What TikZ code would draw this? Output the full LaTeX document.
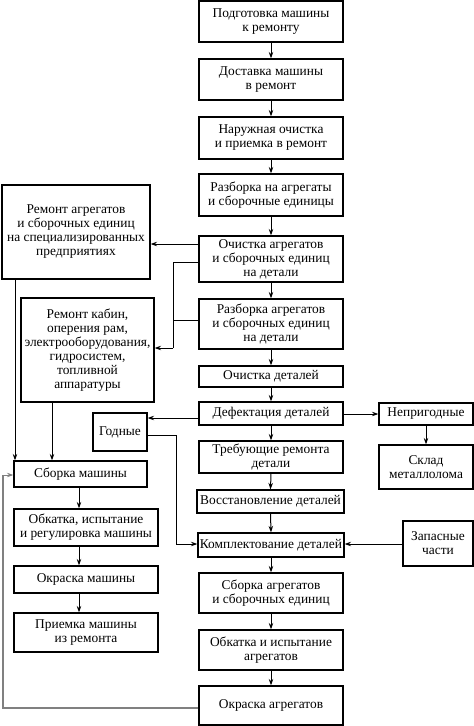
\documentclass[tikz,border=0pt]{standalone}
\usepackage{fontspec}
\setmainfont{Liberation Serif}
\usetikzlibrary{arrows.meta,calc}
\begin{document}
\begin{tikzpicture}[x=1pt,y=-1pt,
  box/.style={draw, line width=1.2pt, align=center, inner sep=0pt,
    font=\fontsize{13.4}{14}\selectfont},
  arr/.style={line width=1pt, -{Stealth[length=6.5pt,width=4.5pt]}},
  ln/.style={line width=1pt},
  gln/.style={line width=1.1pt, draw=black!50}]
\useasboundingbox (0,0) rectangle (474,726);
% central column
\node[box, minimum width=144pt, minimum height=41pt] (b1) at (271,21.5) {Подготовка машины\\к ремонту};
\node[box, minimum width=144pt, minimum height=41pt] (b2) at (271,79.5) {Доставка машины\\в ремонт};
\node[box, minimum width=144pt, minimum height=42pt] (b3) at (271,138) {Наружная очистка\\и приемка в ремонт};
\node[box, minimum width=144pt, minimum height=42pt] (b4) at (271,195) {Разборка на агрегаты\\и сборочные единицы};
\node[box, minimum width=144pt, minimum height=46pt] (b5) at (271,259) {Очистка агрегатов\\и сборочных единиц\\на детали};
\node[box, minimum width=144pt, minimum height=50pt] (b6) at (271,324) {Разборка агрегатов\\и сборочных единиц\\на детали};
\node[box, minimum width=144pt, minimum height=21pt] (b7) at (271,376.5) {Очистка деталей};
\node[box, minimum width=144pt, minimum height=23pt] (b8) at (271,413.5) {Дефектация деталей};
\node[box, minimum width=144pt, minimum height=32pt] (b9) at (271,457) {Требующие ремонта\\детали};
\node[box, minimum width=147pt, minimum height=23pt] (b10) at (270.5,501.5) {Восстановление деталей};
\node[box, minimum width=146pt, minimum height=24pt] (b11) at (271,545) {Комплектование деталей};
\node[box, minimum width=144pt, minimum height=40pt] (b12) at (271,593) {Сборка агрегатов\\и сборочных единиц};
\node[box, minimum width=144pt, minimum height=40pt] (b13) at (271,650) {Обкатка и испытание\\агрегатов};
\node[box, minimum width=144pt, minimum height=39pt] (b14) at (271,705.5) {Окраска агрегатов};
% right column
\node[box, minimum width=94pt, minimum height=22pt] (r1) at (426,414) {Непригодные};
\node[box, minimum width=94pt, minimum height=44pt] (r2) at (426,467) {Склад\\металлолома};
\node[box, minimum width=70pt, minimum height=45pt] (r3) at (438,543.5) {Запасные\\части};
% left column
\node[box, minimum width=148pt, minimum height=94pt] (l1) at (76,232) {Ремонт агрегатов\\и сборочных единиц\\на специализированных\\предприятиях};
\node[box, minimum width=133pt, minimum height=104pt] (l2) at (87.5,350) {Ремонт кабин,\\оперения рам,\\электрооборудования,\\гидросистем,\\топливной\\аппаратуры};
\node[box, minimum width=54pt, minimum height=38pt] (g) at (120,432) {Годные};
\node[box, minimum width=133pt, minimum height=26pt] (l3) at (80.5,474) {Сборка машины};
\node[box, minimum width=144pt, minimum height=37pt] (l4) at (86,527.5) {Обкатка, испытание\\и регулировка машины};
\node[box, minimum width=144pt, minimum height=27pt] (l5) at (86,579.5) {Окраска машины};
\node[box, minimum width=144pt, minimum height=39pt] (l6) at (86,632.5) {Приемка машины\\из ремонта};
% helper coordinates
\coordinate (y244) at (0,244);
\coordinate (j1) at (173,262);
\coordinate (j2) at (173,348);
\coordinate (j3) at (173,320);
\coordinate (x15) at (15,0);
\coordinate (x52) at (52,0);
\coordinate (x79) at (79,0);
\coordinate (y418) at (0,418);
\coordinate (j4) at (176,435);
\coordinate (j5) at (176,544);
\coordinate (y544) at (0,544);
\coordinate (k1) at (3,708);
\coordinate (k2) at (3,475);
% central arrows
\foreach \a/\b in {b1/b2,b2/b3,b3/b4,b4/b5,b5/b6,b6/b7,b7/b8,b8/b9,b9/b10,b10/b11,b11/b12,b12/b13,b13/b14}
  \draw[arr] (\a.south) -- (\b.north);
% left branches
\draw[arr] (b5.west |- y244) -- (l1.east |- y244);
\draw[ln] (b5.west |- j1) -- (j1) -- (j2);
\draw[ln] (b6.west |- j3) -- (j3);
\draw[arr] (j2) -- (l2.east |- j2);
\draw[arr] (l1.south -| x15) -- (l3.north -| x15);
\draw[arr] (l2.south -| x52) -- (l3.north -| x52);
\draw[arr] (b8.west |- y418) -- (g.east |- y418);
\draw[ln] (g.east |- j4) -- (j4) -- (j5);
\draw[arr] (j5) -- (b11.west |- j5);
% right branches
\draw[arr] (b8.east |- r1.west) -- (r1.west);
\draw[arr] (r1.south) -- (r2.north);
\draw[arr] (r3.west |- y544) -- (b11.east |- y544);
% left column
\draw[arr] (l3.south -| x79) -- (l4.north -| x79);
\draw[arr] (l4.south -| x79) -- (l5.north -| x79);
\draw[arr] (l5.south -| x79) -- (l6.north -| x79);
% return line
\draw[gln] (b14.west |- k1) -- (k1) -- (k2);
\draw[arr, draw=black!50] (k2) -- (l3.west |- k2);
\end{tikzpicture}
\end{document}
